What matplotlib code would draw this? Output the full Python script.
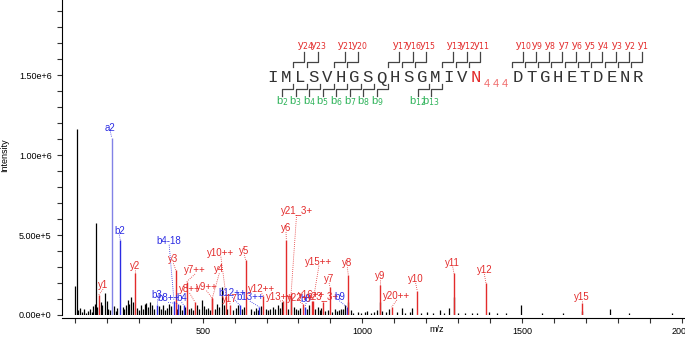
"""Annotated MS/MS spectrum of the N444 glycopeptide."""

import matplotlib
matplotlib.use("Agg")
import matplotlib.pyplot as plt
from matplotlib.ticker import FixedLocator, MultipleLocator, FuncFormatter

# unassigned peaks (m/z, intensity)
bg_mz = [
    100, 107, 110, 115, 121, 127, 133, 140, 146, 152, 157, 162, 167, 170, 180, 186,
    194, 199, 205, 210, 222, 228, 233, 250, 255, 260, 265, 270, 276, 281, 293, 300,
    306, 312, 318, 324, 330, 336, 342, 349, 362, 368, 375, 381, 388, 395, 401,
    419, 430, 436, 445, 456, 463, 470, 482, 490, 497, 503,
    509, 516, 522, 537, 545, 552, 560, 566, 575, 595, 603,
    610, 624, 630, 652, 660, 666, 672, 684, 698,
    705, 712, 720, 728, 735, 741, 747, 768, 776, 785, 791, 798,
    805, 828, 834, 853, 860, 866, 871, 882, 894,
    906, 913, 920, 926, 933, 940, 946, 956, 963, 972, 985, 995,
    1008, 1016, 1027, 1038, 1046, 1055, 1063, 1075, 1085, 1108, 1123, 1135, 1150,
    1157, 1185, 1202, 1220, 1243, 1256, 1270, 1287, 1300, 1320, 1342, 1360, 1397,
    1421, 1449, 1498, 1563, 1629, 1687, 1776, 1835, 1969,
]
bg_int = [
    183e3, 1160e3, 30e3, 45e3, 20e3, 35e3, 15e3, 25e3, 40e3, 18e3, 55e3, 70e3, 577e3, 50e3, 80e3, 60e3,
    137e3, 90e3, 40e3, 30e3, 55e3, 25e3, 45e3, 50e3, 35e3, 60e3, 95e3, 70e3, 110e3, 80e3, 45e3, 30e3,
    65e3, 40e3, 70e3, 75e3, 50e3, 80e3, 60e3, 40e3, 55e3, 35e3, 60e3, 30e3, 45e3, 70e3, 55e3,
    40e3, 60e3, 30e3, 50e3, 35e3, 45e3, 30e3, 60e3, 40e3, 95e3, 55e3,
    35e3, 45e3, 30e3, 40e3, 70e3, 50e3, 177e3, 60e3, 40e3, 30e3, 45e3,
    60e3, 35e3, 50e3, 40e3, 25e3, 45e3, 30e3, 55e3, 40e3,
    30e3, 40e3, 50e3, 35e3, 60e3, 45e3, 83e3, 40e3, 110e3, 50e3, 35e3, 30e3,
    45e3, 40e3, 60e3, 35e3, 50e3, 30e3, 45e3, 25e3, 30e3,
    20e3, 35e3, 25e3, 30e3, 40e3, 35e3, 60e3, 80e3, 30e3, 15e3, 20e3, 15e3,
    20e3, 25e3, 15e3, 20e3, 30e3, 83e3, 25e3, 20e3, 40e3, 20e3, 45e3, 15e3, 20e3,
    45e3, 15e3, 20e3, 12e3, 30e3, 15e3, 45e3, 114e3, 15e3, 12e3, 10e3, 15e3, 20e3,
    12e3, 10e3, 62e3, 10e3, 15e3, 25e3, 40e3, 12e3, 12e3,
]

# assigned fragment peaks
ion_labels = [
    "a2", "b2", "y1", "y2", "b3", "b4-18", "y3", "b8++", "b4", "y7++", "y8++",
    "y9++", "y4", "y10++", "y5", "b12++", "y17", "b13++", "y12++", "y13++",
    "y6", "y21_3+", "y22++", "b8", "y16++", "y15++", "y23_3+", "y7", "b9", "y8",
    "y9", "y20++", "y10", "y11", "y12", "y15",
]
ion_mz = [
    215, 242, 174, 287, 356, 410, 416, 424, 441, 450, 476,
    530, 530, 573, 635, 617, 586, 677, 690, 752,
    762, 777, 813, 820, 841, 846, 876, 899, 951, 956,
    1055, 1092, 1172, 1287, 1387, 1687,
]
ion_int = [
    1108e3, 469e3, 125e3, 260e3, 62e3, 90e3, 280e3, 70e3, 60e3, 208e3, 80e3,
    105e3, 105e3, 120e3, 345e3, 60e3, 62e3, 50e3, 120e3, 90e3,
    469e3, 137e3, 70e3, 50e3, 90e3, 90e3, 80e3, 173e3, 50e3, 250e3,
    187e3, 50e3, 150e3, 260e3, 200e3, 77e3,
]
label_mz = [
    211, 239, 188, 287, 356, 395, 408, 392, 434, 476, 459,
    512, 552, 557, 630, 592, 585, 648, 685, 742,
    761, 794, 805, 824, 842, 864, 877, 896, 928, 953,
    1055, 1108, 1167, 1283, 1382, 1687,
]
label_int = [
    1171e3, 527e3, 187e3, 308e3, 122e3, 464e3, 348e3, 104e3, 104e3, 281e3, 162e3,
    177e3, 285e3, 389e3, 400e3, 137e3, 98e3, 112e3, 160e3, 112e3,
    544e3, 650e3, 106e3, 100e3, 125e3, 333e3, 112e3, 225e3, 114e3, 323e3,
    246e3, 119e3, 225e3, 327e3, 281e3, 114e3,
]

peptide_left = "IMLSVHGSQHSGMIVN"
glyco_site = "444"
peptide_right = "DTGHETDENR"
y_ions = [24, 23, 21, 20, 17, 16, 15, 13, 12, 11, 10, 9, 8, 7, 6, 5, 4, 3, 2, 1]
b_ions = [2, 3, 4, 5, 6, 7, 8, 9, 12, 13]

RED = "#e32b2b"
BLUE = "#2b2be3"
LAVENDER = "#8282e6"
GREEN = "#2fb35a"
FIG_W, FIG_H = 685, 338

plt.rcParams["font.family"] = ["Liberation Sans", "DejaVu Sans"]

fig = plt.figure(figsize=(FIG_W / 100, FIG_H / 100), dpi=100)
ax = fig.add_axes([62 / FIG_W, 23 / FIG_H, 623 / FIG_W, 315 / FIG_H])

ax.vlines(bg_mz, 0, bg_int, color="black", linewidth=0.9)
for lab, mz, inten, lx, ly in zip(ion_labels, ion_mz, ion_int, label_mz, label_int):
    col = BLUE if lab.startswith(("a", "b")) else RED
    line_col = LAVENDER if lab == "a2" else col
    ax.vlines(mz, 0, inten, color=line_col, linewidth=1.0, zorder=3)
    ax.plot([lx, mz], [ly - 25e3, inten], color=col, linestyle=(0, (1, 1.5)),
            linewidth=0.6, zorder=3)
    ax.text(lx, ly, lab, color=col, fontsize=7, ha="center", va="center", zorder=4)

ax.set_xlim(59.4, 2010.5)
ax.set_ylim(0, 1.969e6)
ax.xaxis.set_major_locator(FixedLocator([500, 1000, 1500, 2000]))
ax.xaxis.set_minor_locator(MultipleLocator(100))
ax.yaxis.set_major_locator(FixedLocator([0, 5e5, 1e6, 1.5e6]))
ax.yaxis.set_minor_locator(MultipleLocator(1e5))


def sci_label(v, _pos):
    if v == 0:
        return "0.00e+0"
    exp = len(str(int(v))) - 1
    return f"{v / 10 ** exp:.2f}e+{exp}"


ax.yaxis.set_major_formatter(FuncFormatter(sci_label))
ax.tick_params(axis="both", which="both", direction="out", length=3.5, width=0.8,
               labelsize=6.5, color="#333333")
ax.tick_params(axis="x", pad=3)
ax.tick_params(axis="y", pad=4)
for side in ("top", "right"):
    ax.spines[side].set_visible(False)
ax.spines["bottom"].set_position(("outward", 2))
ax.spines["left"].set_linewidth(0.8)
ax.spines["bottom"].set_linewidth(0.8)

fig.text(437 / FIG_W, 1 - 330 / FIG_H, "m/z", fontsize=6.5, ha="center", va="center")
fig.text(5 / FIG_W, 1 - 155 / FIG_H, "Intensity", fontsize=6.5, rotation=90,
         ha="center", va="center")


def px(x, y):
    return x / FIG_W, 1 - y / FIG_H


# peptide sequence with fragment brackets (figure pixel layout)
letter_x = [272.7 + 13.55 * i for i in range(len(peptide_left))]
letter_x += [518.3 + 13.3 * i for i in range(len(peptide_right))]
sequence = peptide_left + peptide_right
for i, (ch, x) in enumerate(zip(sequence, letter_x)):
    col = RED if i == len(peptide_left) - 1 else "#333333"
    fig.text(*px(x, 78), ch, family=["Liberation Mono", "DejaVu Sans Mono"],
             fontsize=12.5, color=col, ha="center", va="center")
for k, ch in enumerate(glyco_site):
    fig.text(*px(487 + 9 * k, 84), ch, fontsize=8, color="#f06a6a",
             ha="center", va="center")

n_res = len(sequence)
bracket = dict(color="#444444", linewidth=0.9, transform=fig.transFigure)


def gap_x(after):
    # x position between residue `after` and `after + 1` (1-based)
    return letter_x[after] - 6.7


for n in y_ions:
    g = gap_x(n_res - n)
    pts = [px(g, 67), px(g, 62), px(g + 11, 62), px(g + 11, 52)]
    fig.add_artist(plt.Line2D([p[0] for p in pts], [p[1] for p in pts], **bracket))
    fig.text(*px(g + 12, 46), f"y$_{{{n}}}$", color=RED, fontsize=8,
             ha="center", va="center")

for n in b_ions:
    g = gap_x(n)
    pts = [px(g, 84), px(g, 89), px(g - 11, 89), px(g - 11, 96)]
    fig.add_artist(plt.Line2D([p[0] for p in pts], [p[1] for p in pts], **bracket))
    fig.text(*px(g - 11, 101), f"b$_{{{n}}}$", color=GREEN, fontsize=8,
             ha="center", va="center")

fig.savefig("out.png", dpi=100)
